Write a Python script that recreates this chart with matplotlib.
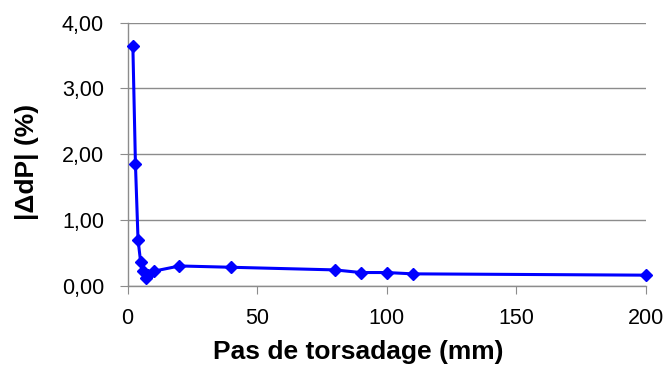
import matplotlib
matplotlib.use('Agg')
import matplotlib.pyplot as plt
from matplotlib.ticker import FuncFormatter

# twist pitch (mm) vs |dP| (%)
pas = [2, 3, 4, 5, 6, 7, 8, 10, 20, 40, 80, 90, 100, 110, 200]
ddp = [3.65, 1.85, 0.70, 0.36, 0.22, 0.12, 0.17, 0.22, 0.30, 0.28,
       0.24, 0.20, 0.20, 0.18, 0.16]
xticks = [0, 50, 100, 150, 200]
yticks = [0, 1, 2, 3, 4]

plt.rcParams['font.family'] = ['Liberation Sans', 'DejaVu Sans']

fig = plt.figure(figsize=(6.66, 3.65), dpi=100)
ax = fig.add_axes([0.1917, 0.2173, 0.9695 - 0.1917, 0.938 - 0.2173])

ax.plot(pas, ddp, '-', color='#0000ff', lw=2.2, marker='D', ms=6.5,
        mec='#0000ff', mfc='#0000ff', clip_on=False, zorder=3)

ax.set_xlim(0, 200)
ax.set_ylim(0, 4)
ax.set_xticks(xticks)
ax.set_yticks(yticks)
ax.yaxis.set_major_formatter(FuncFormatter(lambda v, p: ('%.2f' % v).replace('.', ',')))

ax.grid(axis='y', color='#8c8c8c', lw=1.0)
ax.set_axisbelow(True)
for s in ['top', 'right']:
    ax.spines[s].set_visible(False)
for s in ['left', 'bottom']:
    ax.spines[s].set_color('#8c8c8c')
    ax.spines[s].set_linewidth(1.0)
ax.tick_params(axis='both', direction='out', length=6, color='#8c8c8c',
               labelsize=15.5)
ax.tick_params(axis='x', pad=10)
ax.tick_params(axis='y', pad=11)

ax.set_xlabel('Pas de torsadage (mm)', fontsize=19, fontweight='bold')
ax.set_ylabel('|ΔdP| (%)', fontsize=19, fontweight='bold')
# labels sit a bit off-centre in the original
ax.xaxis.set_label_coords(0.445, -0.205)
ax.yaxis.set_label_coords(-0.172, 0.47)

fig.savefig('out.png', dpi=100)
